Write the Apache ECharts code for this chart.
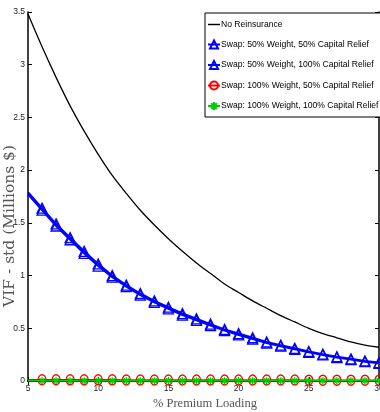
<!DOCTYPE html>
<html><head><meta charset="utf-8">
<script src="https://cdn.jsdelivr.net/npm/echarts@6/dist/echarts.min.js"></script>
<style>html,body{margin:0;padding:0;background:#fff}#c{width:380px;height:412px}</style>
</head><body><div id="c"></div>
<script>
var premiumLoading = [5,6,7,8,9,10,11,12,13,14,15,16,17,18,19,20,21,22,23,24,25,26,27,28,29,30];
var noReinsurance = [3.48,3.17,2.88,2.61,2.37,2.15,1.95,1.78,1.62,1.48,1.35,1.23,1.12,1.02,0.92,0.84,0.76,0.69,0.62,0.56,0.50,0.45,0.41,0.37,0.34,0.32];
var swap50w50c = [1.79,1.64,1.49,1.36,1.23,1.11,1.00,0.91,0.83,0.76,0.70,0.64,0.59,0.54,0.49,0.45,0.41,0.37,0.34,0.31,0.28,0.255,0.23,0.21,0.19,0.175];
var swap50w100c = [1.77,1.62,1.47,1.34,1.21,1.09,0.985,0.895,0.815,0.745,0.685,0.625,0.575,0.525,0.478,0.437,0.397,0.36,0.33,0.30,0.272,0.247,0.223,0.203,0.183,0.168];
var swap100w50c = [0.012,0.012,0.012,0.011,0.011,0.011,0.011,0.010,0.010,0.010,0.010,0.010,0.010,0.009,0.009,0.009,0.009,0.009,0.009,0.009,0.008,0.008,0.008,0.008,0.008,0.008];
var swap100w100c = [0.003,0.003,0.003,0.003,0.003,0.003,0.003,0.003,0.003,0.003,0.003,0.003,0.003,0.003,0.003,0.003,0.003,0.003,0.003,0.003,0.003,0.003,0.003,0.003,0.003,0.003];
var xTicks = [5,10,15,20,25,30];
var yTicks = [0,0.5,1,1.5,2,2.5,3,3.5];

function pts(arr, hideFirst){
  return premiumLoading.map(function(x,i){
    var d = {value:[x, arr[i]]};
    if (hideFirst && i === 0) d.symbol = 'none';
    return d;
  });
}
var asterisk = 'path://M0,5L10,5M5,0L5,10M1.5,1.5L8.5,8.5M1.5,8.5L8.5,1.5';
var chart = echarts.init(document.getElementById('c'), null, {renderer:'canvas'});
var axisLine = {show:true, lineStyle:{color:'#000', width:1.5}};
chart.setOption({
  animation:false,
  backgroundColor:'#fff',
  grid:{left:28, top:12, right:1, bottom:31, containLabel:false, outerBoundsMode:'none'},
  legend:{
    orient:'vertical', left:205, top:13,
    backgroundColor:'#fff', borderColor:'#000', borderWidth:1,
    padding:[7,4,6,2], itemGap:10.5, itemWidth:12, itemHeight:10,
    textStyle:{fontFamily:'Liberation Sans', fontSize:8.6, color:'#000', padding:[0,0,0,-4]},
    data:[
      {name:'No Reinsurance', icon:'path://M0,4.4L10,4.4L10,5.6L0,5.6Z'},
      'Swap: 50% Weight, 50% Capital Relief','Swap: 50% Weight, 100% Capital Relief','Swap: 100% Weight, 50% Capital Relief','Swap: 100% Weight, 100% Capital Relief']
  },
  xAxis:[{
    type:'value', min:5, max:30, interval:5, position:'bottom',
    axisLine:axisLine, axisTick:{inside:true, length:4, lineStyle:{color:'#000'}},
    axisLabel:{fontFamily:'Liberation Sans', fontSize:8.5, color:'#222', margin:3,
      formatter:function(v){return xTicks.indexOf(v)>=0 ? String(v) : '';}},
    splitLine:{show:false}
  },{
    type:'value', min:5, max:30, interval:5, position:'top',
    axisLine:axisLine, axisTick:{inside:true, length:4, lineStyle:{color:'#000'}},
    axisLabel:{show:false}, splitLine:{show:false}
  }],
  yAxis:[{
    type:'value', min:0, max:3.5, interval:0.5, position:'left',
    axisLine:axisLine, axisTick:{inside:true, length:4, lineStyle:{color:'#000'}},
    axisLabel:{fontFamily:'Liberation Sans', fontSize:8.5, color:'#222', margin:3,
      formatter:function(v){return yTicks.indexOf(v)>=0 ? String(v) : '';}},
    splitLine:{show:false}
  },{
    type:'value', min:0, max:3.5, interval:0.5, position:'right',
    axisLine:axisLine, axisTick:{inside:true, length:4, lineStyle:{color:'#000'}},
    axisLabel:{show:false}, splitLine:{show:false}
  }],
  graphic:[
    {type:'text', x:10, y:226, rotation:Math.PI/2, style:{text:'VIF - std (Millions $)', fontFamily:'DejaVu Serif', fontSize:15.5, fill:'#555', align:'center', verticalAlign:'middle'}},
    {type:'text', x:205, y:404, style:{text:'% Premium Loading', fontFamily:'Liberation Serif', fontSize:12.5, fill:'#555', align:'center', verticalAlign:'middle'}}
  ],
  series:[
    {name:'No Reinsurance', type:'line', data:pts(noReinsurance,false), symbol:'none', smooth:0.3, lineStyle:{color:'#000', width:1.3}, itemStyle:{color:'#000'}, z:2},
    {name:'Swap: 50% Weight, 50% Capital Relief', type:'line', data:pts(swap50w50c,true), symbol:'triangle', symbolSize:[10,10], showAllSymbol:true,
      lineStyle:{color:'#0000ff', width:2}, itemStyle:{color:'rgba(255,255,255,0)', borderColor:'#0000ff', borderWidth:1.3}, z:3},
    {name:'Swap: 50% Weight, 100% Capital Relief', type:'line', data:pts(swap50w100c,true), symbol:'triangle', symbolSize:[10,10], showAllSymbol:true,
      lineStyle:{color:'#0000ff', width:2}, itemStyle:{color:'rgba(255,255,255,0)', borderColor:'#0000ff', borderWidth:1.3}, z:3},
    {name:'Swap: 100% Weight, 50% Capital Relief', type:'line', data:pts(swap100w50c,true), symbol:'circle', symbolSize:[8,10], showAllSymbol:true,
      lineStyle:{color:'#ff0000', width:1.5}, itemStyle:{color:'rgba(255,255,255,0)', borderColor:'#ff0000', borderWidth:1.3}, z:4},
    {name:'Swap: 100% Weight, 100% Capital Relief', type:'line', data:pts(swap100w100c,true), symbol:asterisk, symbolSize:7, showAllSymbol:true,
      lineStyle:{color:'#00cc00', width:1.5}, itemStyle:{color:'rgba(255,255,255,0)', borderColor:'#00cc00', borderWidth:1.3}, z:5}
  ]
});
</script></body></html>
